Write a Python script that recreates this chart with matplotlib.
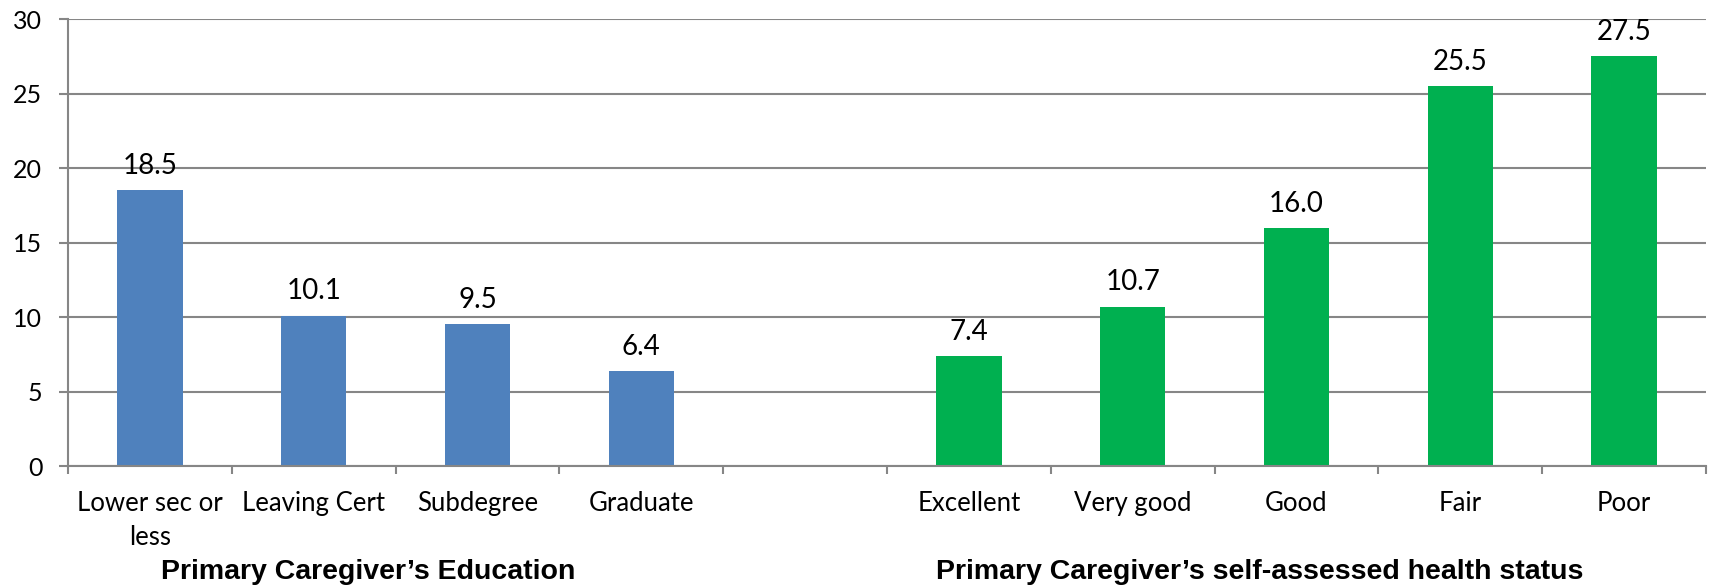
import matplotlib
matplotlib.use("Agg")
import numpy as np
import matplotlib.pyplot as plt

# 学歴別
edu_labels = ["Lower sec or\nless", "Leaving Cert", "Subdegree", "Graduate"]
edu_values = [18.5, 10.1, 9.5, 6.4]

# 健康状態別
health_labels = ["Excellent", "Very good", "Good", "Fair", "Poor"]
health_values = [7.4, 10.7, 16.0, 25.5, 27.5]

yticks = [0, 5, 10, 15, 20, 25, 30]

plt.rcParams["font.family"] = ["Lato", "DejaVu Sans"]

fig = plt.figure(figsize=(17.13, 5.87), dpi=100)
ax = fig.add_axes([0.0397, 0.2061, 0.9562, 0.7615])

# 空のカテゴリを1つ挟んで2グループを並べる
labels = edu_labels + [""] + health_labels
x = np.arange(len(labels))
edu_x = x[:len(edu_labels)]
health_x = x[len(edu_labels) + 1:]

grid_col = "#868686"
ax.set_axisbelow(True)
ax.yaxis.grid(True, color=grid_col, linewidth=1.5)

b1 = ax.bar(edu_x, edu_values, width=0.4, color="#4F81BD")
b2 = ax.bar(health_x, health_values, width=0.4, color="#00B050")

for bars, vals in [(b1, edu_values), (b2, health_values)]:
    for rect, v in zip(bars, vals):
        ax.annotate(f"{v:.1f}", (rect.get_x() + rect.get_width() / 2, v),
                    xytext=(0, 8), textcoords="offset points",
                    ha="center", va="bottom", fontsize=20)

ax.set_xlim(-0.5, len(labels) - 0.5)
ax.set_ylim(0, 30)
ax.set_yticks(yticks)
ax.set_xticks(x)
ax.set_xticklabels(labels, fontsize=18.5, linespacing=1.45)
ax.set_xticks(np.arange(-0.5, len(labels), 1.0), minor=True)
ax.tick_params(axis="x", which="major", length=0, pad=18)
ax.tick_params(axis="x", which="minor", length=6, width=1.5, color=grid_col)
ax.tick_params(axis="y", length=6.5, width=1.5, color=grid_col, labelsize=18, pad=12)

for side in ["top", "right"]:
    ax.spines[side].set_visible(False)
for side in ["left", "bottom"]:
    ax.spines[side].set_color(grid_col)
    ax.spines[side].set_linewidth(1.5)

# グループ見出し
title_font = dict(fontsize=20.5, fontweight="bold", family=["Liberation Sans", "DejaVu Sans"],
                  ha="center", va="center")
fig.text(368 / 1713, 1 - 572 / 587, "Primary Caregiver\u2019s Education", **title_font)
fig.text(1260 / 1713, 1 - 572 / 587, "Primary Caregiver\u2019s self-assessed health status", **title_font)

fig.savefig("out.png", dpi=100)
